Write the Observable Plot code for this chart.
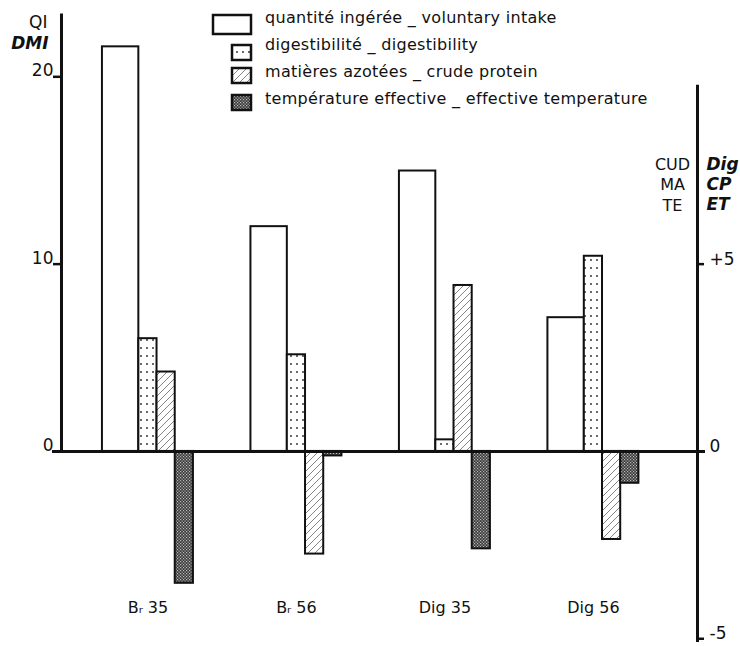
<!DOCTYPE html>
<html><head><meta charset="utf-8">
<script src="https://cdn.jsdelivr.net/npm/d3@7"></script>
<script src="https://cdn.jsdelivr.net/npm/@observablehq/plot@0.6"></script>
<style>
body{margin:0;background:#fff;}
#wrap{position:relative;width:740px;height:646px;font-family:"DejaVu Sans",sans-serif;}
#legend{position:absolute;left:0;top:0;pointer-events:none;}
</style></head><body>
<svg width="0" height="0" style="position:absolute">
 <defs>
  <pattern id="pat-dots" width="6" height="8" patternUnits="userSpaceOnUse">
   <rect width="6" height="8" fill="#fff"/>
   <circle cx="3" cy="4" r="0.9" fill="#222"/>
  </pattern>
  <pattern id="pat-hatch" width="7" height="7" patternUnits="userSpaceOnUse">
   <rect width="7" height="7" fill="#fff"/>
   <path d="M-1,8 L8,-1 M-1,1 L1,-1 M6,8 L8,6" stroke="#777" stroke-width="0.9"/>
  </pattern>
  <pattern id="pat-dark" width="3" height="3" patternUnits="userSpaceOnUse">
   <rect width="3" height="3" fill="#3a3a3a"/>
   <rect x="0" y="0" width="1.2" height="1.2" fill="#bdbdbd"/>
   <rect x="1.5" y="1.5" width="1.2" height="1.2" fill="#bdbdbd"/>
  </pattern>
 </defs>
</svg>
<div id="wrap"></div>
<script>
// ---- data ----
const groupLabels = ["B\u1d63 35", "B\u1d63 56", "Dig 35", "Dig 56"];
// left axis (QI / DMI)
const intake = [21.6, 12.0, 14.97, 7.14];
// right axis (CUD-MA-TE / Dig-CP-ET)
const digestibility = [3.01, 2.58, 0.31, 5.21];
const crudeProtein = [2.12, -2.74, 4.43, -2.35];
const effectiveTemp = [-3.52, -0.12, -2.6, -0.85];
const seriesLabels = [
  "quantité ingérée _ voluntary intake",
  "digestibilité _ digestibility",
  "matières azotées _ crude protein",
  "température effective _ effective temperature"
];
const leftTicks = [0, 10, 20];
const leftTickLabels = ["0", "10", "20"];
const rightTicks = [-5, 0, 5];
const rightTickLabels = ["-5", "0", "+5"];

// ---- layout ----
const RIGHT_PER_LEFT = 10 / 5; // +5 on the right axis sits at 10 on the left axis
const fills = ["#fff", "url(#pat-dots)", "url(#pat-hatch)", "url(#pat-dark)"];
const slotStart = [0, 2, 3, 4], slotEnd = [2, 3, 4, 5];
const PITCH = 8.16;
const xDomain = [-2.25, 32.7];
const yDomain = [-10.2, 23.7];

const series = [intake, digestibility.map(v => v * RIGHT_PER_LEFT),
  crudeProtein.map(v => v * RIGHT_PER_LEFT), effectiveTemp.map(v => v * RIGHT_PER_LEFT)];
const rows = [];
groupLabels.forEach((g, i) => series.forEach((vals, s) => rows.push({i, s, v: vals[i]})));
const centers = groupLabels.map((g, i) => i * PITCH + 2.5);

const chart = Plot.plot({
  width: 740, height: 646,
  marginLeft: 61, marginRight: 43, marginTop: 7, marginBottom: 4,
  style: {fontFamily: "DejaVu Sans, sans-serif", background: "#fff", color: "#111"},
  x: {type: "linear", domain: xDomain, axis: null},
  y: {domain: yDomain, axis: null},
  color: {type: "identity"},
  marks: [
    Plot.rect(rows, {
      x1: d => d.i * PITCH + slotStart[d.s], x2: d => d.i * PITCH + slotEnd[d.s],
      y1: 0, y2: d => d.v, fill: d => fills[d.s], stroke: "#111", strokeWidth: 2
    }),
    Plot.ruleY([0], {stroke: "#111", strokeWidth: 3, insetLeft: -9, insetRight: -8}),
    Plot.ruleX([xDomain[0]], {y1: 0, y2: 23.35, stroke: "#111", strokeWidth: 3}),
    Plot.ruleX([xDomain[1]], {y1: yDomain[0], y2: 19.55, stroke: "#111", strokeWidth: 3}),
    // left axis ticks + labels
    Plot.axisY(leftTicks, {anchor: "left", tickSize: 8, strokeWidth: 2.5, fill: "none", label: null}),
    Plot.axisY(leftTicks, {anchor: "left", tickSize: 8, tickPadding: 0, stroke: "none", dy: -6,
      fontSize: 17, tickFormat: d => leftTickLabels[leftTicks.indexOf(d)], label: null}),
    // right axis ticks + labels (right units converted to left units)
    Plot.axisY(rightTicks.map(d => d * RIGHT_PER_LEFT), {anchor: "right", tickSize: 6, strokeWidth: 2.5, fill: "none", label: null}),
    Plot.axisY(rightTicks.map(d => d * RIGHT_PER_LEFT), {anchor: "right", tickSize: 6, tickPadding: 6, stroke: "none", dy: -5,
      fontSize: 17, tickFormat: d => rightTickLabels[rightTicks.indexOf(d / RIGHT_PER_LEFT)], label: null}),
    // group labels
    Plot.axisX(centers, {anchor: "bottom", tickSize: 0, tickPadding: 0, dy: -41, fontSize: 16,
      tickFormat: d => groupLabels[centers.indexOf(d)], label: null}),
    // axis titles
    Plot.text(["QI"], {frameAnchor: "top-left", lineAnchor: "middle", textAnchor: "end", dx: -14, dy: 15, fontSize: 17}),
    Plot.text(["DMI"], {frameAnchor: "top-left", lineAnchor: "middle", textAnchor: "end", dx: -13, dy: 36, fontSize: 17,
      fontWeight: "bold", fontStyle: "italic"}),
    Plot.text(["CUD\nMA\nTE"], {frameAnchor: "top-right", lineAnchor: "middle", textAnchor: "middle", dx: -25, dy: 176,
      fontSize: 16, lineHeight: 1.28}),
    Plot.text(["Dig\nCP\nET"], {frameAnchor: "top-right", lineAnchor: "middle", textAnchor: "start", dx: 9, dy: 176,
      fontSize: 17, lineHeight: 1.2, fontWeight: "bold", fontStyle: "italic"})
  ]
});
const wrap = document.getElementById("wrap");
wrap.appendChild(chart);

// legend overlay
const lg = d3.select(wrap).append("svg").attr("id", "legend").attr("width", 740).attr("height", 120);
const sw = [
  {x: 213, y: 15, w: 38, h: 19},
  {x: 232, y: 45, w: 19, h: 15},
  {x: 232, y: 68, w: 19, h: 15},
  {x: 232, y: 95, w: 19, h: 15}
];
const baselines = [23, 50, 77, 104];
seriesLabels.forEach((t, k) => {
  lg.append("rect").attr("x", sw[k].x).attr("y", sw[k].y).attr("width", sw[k].w).attr("height", sw[k].h)
    .attr("fill", fills[k]).attr("stroke", "#111").attr("stroke-width", 2.5);
  lg.append("text").attr("x", 265).attr("y", baselines[k]).attr("font-size", 16)
    .attr("letter-spacing", 0.3)
    .attr("font-family", "DejaVu Sans, sans-serif").attr("fill", "#111").text(t);
});
</script>
</body></html>
